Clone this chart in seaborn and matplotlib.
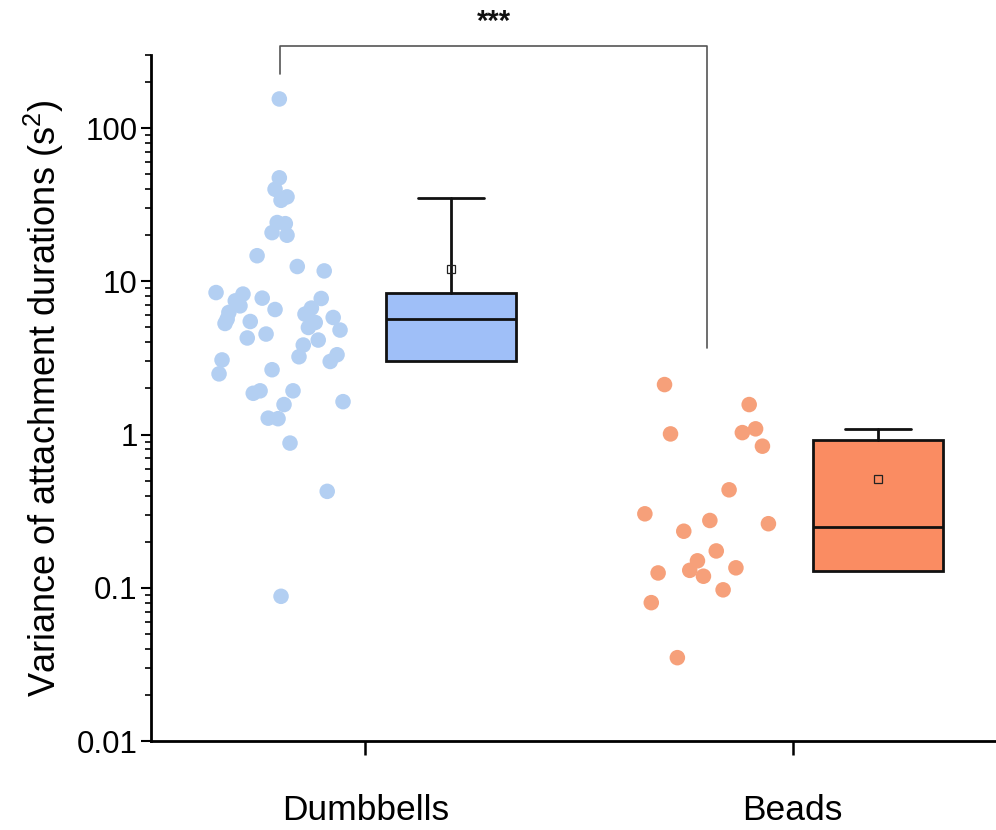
import numpy as np
import pandas as pd
import matplotlib
matplotlib.use("Agg")
import matplotlib.pyplot as plt
import matplotlib.ticker as mticker
import seaborn as sns

# ---------------- data ----------------
categories = ["Dumbbells", "Beads"]

dumbbells_values = [155, 47.4, 39.9, 35.6, 33.8, 24.2, 23.8, 20.8, 20.0, 14.7,
                    12.5, 11.7, 8.45, 8.26, 7.46, 7.77, 7.73, 6.92, 6.55, 6.69,
                    6.27, 6.11, 5.67, 5.81, 5.47, 5.39, 5.0, 4.81, 5.31, 4.27,
                    4.53, 4.14, 3.84, 3.22, 3.32, 3.0, 3.07, 2.65, 2.49, 1.86,
                    1.93, 1.93, 1.64, 1.57, 1.28, 1.27, 0.88, 0.426, 0.088]
dumbbells_jitter = [-0.001, -0.001, -0.011, 0.017, 0.003, -0.006, 0.013, -0.018, 0.017, -0.053,
                    0.041, 0.104, -0.149, -0.086, -0.104, -0.041, 0.097, -0.093, -0.011, 0.074,
                    -0.119, 0.059, -0.123, 0.125, -0.069, 0.083, 0.067, 0.141, -0.128, -0.076,
                    -0.032, 0.090, 0.055, 0.045, 0.134, 0.118, -0.135, -0.018, -0.142, -0.062,
                    -0.046, 0.031, 0.148, 0.010, -0.027, -0.004, 0.024, 0.111, 0.003]

beads_values = [2.12, 1.57, 1.01, 1.03, 1.09, 0.84, 0.436, 0.304, 0.262, 0.275,
                0.234, 0.174, 0.150, 0.135, 0.130, 0.119, 0.125, 0.097, 0.080, 0.035]
beads_jitter = [-0.100, 0.098, -0.086, 0.082, 0.113, 0.129, 0.051, -0.146, 0.143, 0.006,
                -0.055, 0.021, -0.023, 0.067, -0.041, -0.009, -0.115, 0.037, -0.131, -0.070]

# box statistics (Origin style: box = quartiles, whisker = mean + SD)
box_q1 = [3.03, 0.128]
box_median = [5.67, 0.249]
box_q3 = [8.38, 0.923]
box_whisker_hi = [35.2, 1.09]
box_mean = [12.0, 0.514]

significance = "***"
ytick_values = [0.01, 0.1, 1, 10, 100]
ylabel = "Variance of attachment durations (s$^2$)"

# ---------------- style ----------------
point_colors = ["#b3cff2", "#f6a07a"]
box_colors = ["#9fbff8", "#fa8c62"]

sns.set_theme(style="ticks")
plt.rcParams["font.family"] = ["Liberation Sans", "DejaVu Sans"]
plt.rcParams["mathtext.fontset"] = "custom"
plt.rcParams["mathtext.rm"] = "Liberation Sans"
plt.rcParams["mathtext.it"] = "Liberation Sans:italic"
plt.rcParams["text.color"] = "black"
plt.rcParams["axes.labelcolor"] = "black"
plt.rcParams["xtick.color"] = "black"
plt.rcParams["ytick.color"] = "black"

fig = plt.figure(figsize=(9.96, 8.30), dpi=100)
ax = fig.add_axes([0.1521, 0.1072, 0.8585, 0.8265])

# scatter strips
strip_offset = -0.2
box_offset = 0.2
frames = []
for i, (vals, jit) in enumerate([(dumbbells_values, dumbbells_jitter),
                                 (beads_values, beads_jitter)]):
    frames.append(pd.DataFrame({
        "x": i + strip_offset + np.array(jit),
        "y": vals,
        "group": categories[i],
    }))
df = pd.concat(frames, ignore_index=True)
sns.scatterplot(data=df, x="x", y="y", hue="group", palette=point_colors,
                s=125, linewidth=0, alpha=1.0, legend=False, ax=ax, zorder=3)

# boxes
stats = []
for i in range(len(categories)):
    stats.append(dict(med=box_median[i], q1=box_q1[i], q3=box_q3[i],
                      whislo=box_q1[i], whishi=box_whisker_hi[i],
                      mean=box_mean[i], fliers=[]))
positions = [i + box_offset for i in range(len(categories))]
bp = ax.bxp(stats, positions=positions, widths=0.304, capwidths=0.155,
            showmeans=True, patch_artist=True, manage_ticks=False,
            boxprops=dict(linewidth=2.0, edgecolor="#111111"),
            medianprops=dict(linewidth=2.0, color="#111111"),
            whiskerprops=dict(linewidth=2.0, color="#111111"),
            capprops=dict(linewidth=2.0, color="#111111"),
            meanprops=dict(marker="s", markersize=6, markerfacecolor="none",
                           markeredgecolor="#222222", markeredgewidth=0.9))
for patch, c in zip(bp["boxes"], box_colors):
    patch.set_facecolor(c)
# hide lower caps / whiskers (mean - SD is negative)
for i in range(len(categories)):
    bp["caps"][2 * i].set_visible(False)
    bp["whiskers"][2 * i].set_visible(False)

# axes
ax.set_yscale("log")
ax.set_ylim(0.01, 300)
ax.set_xlim(-0.5, 1.5)
ax.set_xticks(range(len(categories)))
ax.set_xticklabels(categories)
ax.set_yticks(ytick_values)
ax.yaxis.set_major_formatter(mticker.FuncFormatter(lambda v, p: f"{v:g}"))
ax.yaxis.set_minor_locator(mticker.LogLocator(base=10, subs=np.arange(2, 10)))
ax.yaxis.set_minor_formatter(mticker.NullFormatter())

for s in ["top", "right"]:
    ax.spines[s].set_visible(False)
for s in ["left", "bottom"]:
    ax.spines[s].set_linewidth(2.0)
    ax.spines[s].set_color("black")

ax.tick_params(axis="y", which="major", length=7, width=1.5, labelsize=22.5, pad=3,
               color="black", labelcolor="black")
ax.tick_params(axis="y", which="minor", length=4, width=1.2, color="black")
ax.tick_params(axis="x", which="major", length=10, width=1.8, labelsize=25.5, pad=28,
               color="black", labelcolor="black")
ax.set_xlabel("")
ax.set_ylabel(ylabel, fontsize=26, labelpad=8, color="black")
ax.grid(False)

# significance bracket
ax.plot([strip_offset, strip_offset, 1 + strip_offset, 1 + strip_offset],
        [225, 342, 342, 3.7], color="#555555", lw=1.2, clip_on=False, zorder=4)
ax.text(0.5 * (strip_offset + 1 + strip_offset), 490, significance,
        ha="center", va="center", fontsize=21, fontweight="bold", color="#111111")

fig.savefig("out.png", dpi=100)
